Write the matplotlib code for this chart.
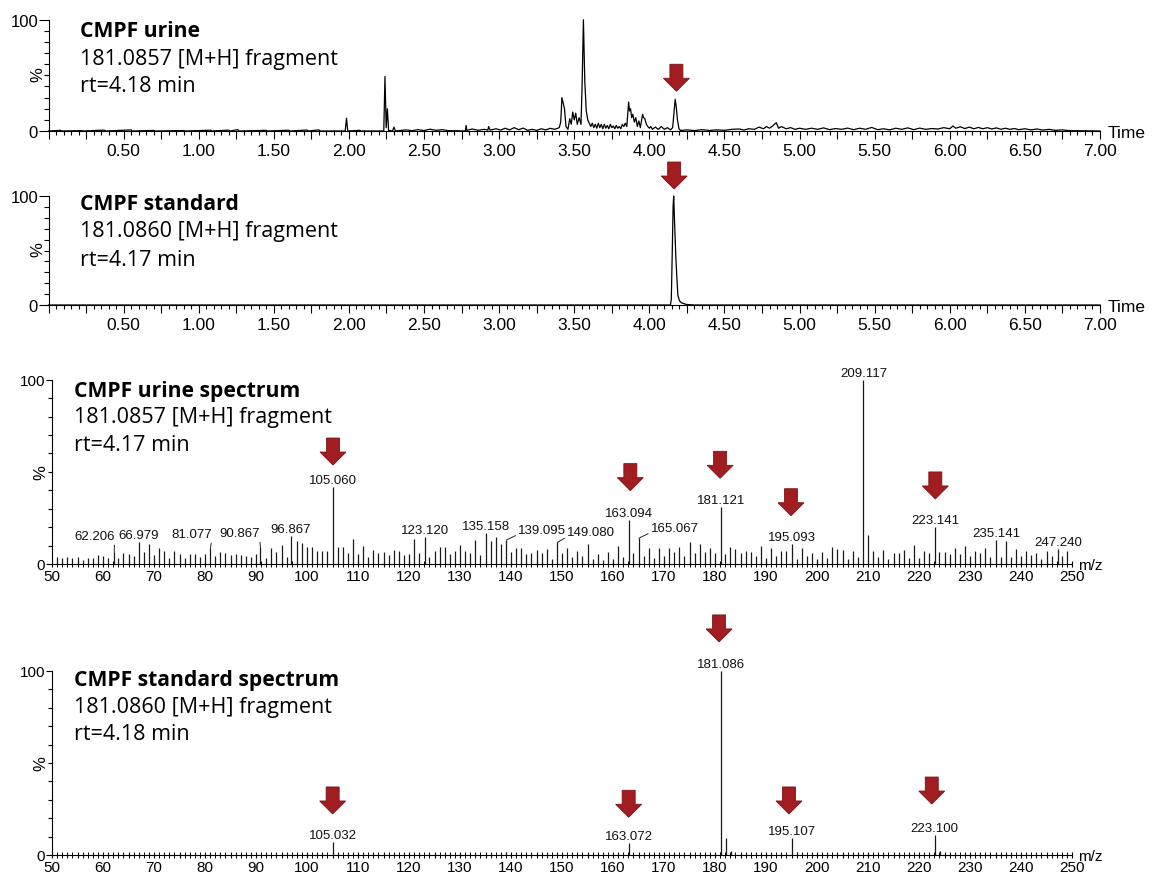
import matplotlib
matplotlib.use('Agg')
import matplotlib.pyplot as plt
import matplotlib.transforms as mtransforms
from matplotlib.patches import Polygon
from matplotlib.ticker import MultipleLocator, FuncFormatter

plt.rcParams['font.family'] = ['Liberation Sans', 'DejaVu Sans']

# ---------------- data ----------------
# chromatogram of urine sample (time in min, intensity in %)
chrom1_time = [0.00, 0.08, 0.09, 0.22, 0.23, 0.37, 0.38, 0.55, 0.56, 0.70, 0.71, 0.90, 0.91,
               1.08, 1.09, 1.20, 1.21, 1.26, 1.27, 1.45, 1.46, 1.60, 1.61, 1.72, 1.73, 1.80, 1.81,
               1.975, 1.984, 1.992, 2.07, 2.08, 2.232, 2.240, 2.248, 2.256, 2.264, 2.29, 2.30, 2.31,
               2.38, 2.42, 2.46, 2.50, 2.54, 2.58, 2.62, 2.66, 2.72, 2.775, 2.78, 2.785, 2.82, 2.86,
               2.90, 2.925, 2.93, 2.94, 2.98, 3.01, 3.04, 3.07, 3.10, 3.13, 3.16, 3.19, 3.22, 3.25,
               3.28, 3.31, 3.34, 3.37, 3.40, 3.41, 3.418, 3.428, 3.435, 3.445, 3.458, 3.47, 3.48,
               3.49, 3.50, 3.51, 3.52, 3.532, 3.545, 3.553, 3.561, 3.57, 3.58, 3.59, 3.60, 3.61,
               3.62, 3.63, 3.64, 3.65, 3.66, 3.67, 3.68, 3.69, 3.70, 3.71, 3.72, 3.73, 3.74, 3.75,
               3.76, 3.77, 3.78, 3.79, 3.80, 3.81, 3.82, 3.83, 3.84, 3.85, 3.862, 3.868, 3.875,
               3.882, 3.89, 3.90, 3.91, 3.92, 3.93, 3.94, 3.955, 3.962, 3.97, 3.98, 3.99, 4.00,
               4.01, 4.02, 4.04, 4.06, 4.08, 4.10, 4.12, 4.14, 4.155, 4.172, 4.179, 4.187, 4.197,
               4.207, 4.25, 4.30, 4.35, 4.40, 4.45, 4.50, 4.55, 4.60, 4.63, 4.66, 4.70, 4.73, 4.76,
               4.78, 4.80, 4.82, 4.845, 4.86, 4.88, 4.91, 4.94, 4.97, 5.00, 5.04, 5.08, 5.12, 5.16,
               5.20, 5.24, 5.28, 5.32, 5.36, 5.40, 5.44, 5.48, 5.52, 5.56, 5.60, 5.64, 5.68, 5.72,
               5.76, 5.80, 5.84, 5.88, 5.92, 5.96, 6.00, 6.02, 6.04, 6.07, 6.10, 6.13, 6.16, 6.19,
               6.22, 6.25, 6.28, 6.31, 6.34, 6.37, 6.40, 6.43, 6.46, 6.50, 6.54, 6.58, 6.62, 6.66,
               6.70, 6.75, 6.80, 6.90, 7.00]
chrom1_pct = [0, 0.6, 0, 0.4, 0, 0.8, 0, 1.0, 0, 0.5, 0, 0.4, 0,
              0.7, 0, 0.8, 0, 1.2, 0, 0.6, 0, 0.7, 0, 0.9, 0, 1.0, 0,
              0, 11.5, 0, 0.6, 0, 0, 49, 3, 20, 0.5, 0, 3.5, 0,
              1.0, 0.3, 1.2, 0.4, 1.6, 0.6, 1.2, 0.3, 0.2, 0, 5, 0.5, 1.8, 0.6,
              1.5, 0.8, 4, 0.8, 2.0, 0.8, 2.5, 1.0, 3.0, 1.2, 2.6, 0.6, 1.5, 0.5,
              2.0, 1.0, 2.4, 1.5, 3.0, 8, 30, 24, 20, 4, 1.5, 11, 6,
              17, 10, 16, 6, 12, 6, 45, 100, 45, 18, 10, 7, 4,
              7, 3, 6, 2.5, 7, 3, 6, 2, 6, 2.5, 5, 2, 6, 3,
              4.5, 2, 5, 2.5, 4, 2, 6, 4, 7, 4, 26, 18, 20,
              12, 15, 8, 12, 4, 9, 3, 15, 12, 11, 6, 4, 2.5,
              4, 1.5, 3.5, 1.5, 4, 1.5, 3, 1, 3, 28.5, 22, 10, 2,
              0.5, 1.0, 0.4, 1.2, 0.5, 1.0, 0.6, 1.5, 1.8, 0.8, 2.0, 1.5, 3.5, 2.0,
              4.0, 2.5, 4.5, 7.5, 2.5, 4, 2, 3, 1.5, 2.5, 1.5, 2.5, 1.5, 2.8,
              1.2, 2.2, 1.5, 2.6, 1.2, 2.5, 1.5, 3.2, 1.2, 2.0, 1.0, 2.5, 1.5, 2.8,
              1.2, 2.6, 1.5, 2.2, 1.8, 3.0, 2.0, 4.5, 2.5, 3.8, 2.2, 3.5, 2.0, 3.2,
              2.0, 3.0, 1.8, 2.8, 1.5, 2.5, 1.5, 2.2, 1.2, 2.0, 1.0, 1.8, 0.8, 1.5,
              0.6, 1.0, 0.3, 0.2, 0]

# chromatogram of the standard
chrom2_time = [0.00, 4.140, 4.146, 4.152, 4.158, 4.162, 4.168, 4.176, 4.182, 4.190, 4.200,
               4.213, 4.246, 4.300, 7.00]
chrom2_pct = [0, 0, 5, 45, 90, 100, 75, 45, 28, 9, 4, 2, 0.5, 0, 0]

# urine spectrum (m/z, %)
spec1_mz = [51, 52, 53, 54, 55, 56, 57, 58, 59, 60, 61, 62.206, 63, 64, 65, 66, 66.979, 68, 69, 70,
            71, 72, 73, 74, 75, 76, 77, 78, 79, 80, 81.077, 82, 83, 84, 85, 86, 87, 88, 89, 90,
            90.867, 92, 93, 94, 95, 96, 96.867, 98, 99, 100, 101, 102, 103, 104, 105.060, 106, 107,
            108, 109, 110, 111, 112, 113, 114, 115, 116, 117, 118, 119, 120, 121, 122, 123.120,
            124, 125, 126, 127, 128, 129, 130, 131, 132, 133, 134, 135.158, 136, 137, 138,
            139.095, 140, 141, 142, 143, 144, 145, 146, 147, 148, 149.080, 150, 151, 152, 153,
            154, 155, 156, 157, 158, 159, 160, 161, 162, 163.094, 164, 165.067, 166, 167, 168,
            169, 170, 171, 172, 173, 174, 175, 176, 177, 178, 179, 180, 181.121, 182, 183, 184,
            185, 186, 187, 188, 189, 190, 191, 192, 193, 194, 195.093, 196, 197, 198, 199, 200,
            201, 202, 203, 204, 205, 206, 207, 208, 209.117, 210, 211, 212, 213, 214, 215, 216,
            217, 218, 219, 220, 221, 222, 223.141, 224, 225, 226, 227, 228, 229, 230, 231, 232,
            233, 234, 235.141, 236, 237, 238, 239, 240, 241, 242, 243, 244, 245, 246, 247.240,
            248, 249]
spec1_pct = [4, 3.5, 4, 3, 4, 2, 3.5, 3, 5, 4.5, 3, 6.3, 3, 6, 5.5, 4.5, 12, 6.5, 11, 5,
             8.5, 7, 3, 7, 5.5, 3.5, 5.5, 5.5, 4, 5.5, 8.5, 4.5, 6.5, 6, 5, 5.5, 5, 4.5, 4, 5.5,
             9, 3, 8.5, 6.5, 10.5, 4, 15.3, 12.5, 11.5, 9, 9, 7, 7, 7, 42, 9, 9,
             6, 13.5, 5.5, 10, 4, 7.5, 6, 6.5, 5, 7.5, 7, 5, 5.4, 13.5, 5.8, 14.4,
             4, 7, 9.4, 9.4, 5.4, 7.2, 10.5, 6.8, 5.8, 13, 5, 17, 12.5, 14.8, 10.8,
             13, 6.3, 8.6, 8.6, 5.4, 5.8, 7.6, 5.8, 8.1, 2.7, 11.7, 5.8, 8.6, 3.6, 7.2,
             4.5, 10.8, 2.7, 5.4, 2.2, 6.3, 2.7, 9.9, 4, 23.8, 5.8, 14, 4.5, 8.6, 3.2,
             8.6, 4.5, 8.6, 6.3, 9.4, 4.5, 12, 5.8, 11, 6.3, 8.6, 5.8, 30.8, 5.4, 9.4, 8.1,
             5.8, 6.8, 6.3, 4.5, 9.9, 3.2, 8.6, 4.5, 6.8, 6.8, 10.8, 2.7, 8.6, 4.5, 5.8, 2.7,
             6.3, 3.2, 9, 8.1, 7.6, 2.7, 6.8, 4, 100, 15.8, 6.8, 3.6, 7.6, 2.7, 5.8, 5.8,
             7.6, 3.2, 10.4, 3.2, 6.8, 5.8, 20, 6.3, 6.3, 5.4, 8.6, 5.4, 9.9, 4.5, 6.8, 5.8,
             8.6, 4, 13, 4, 12.6, 4, 8.1, 4.5, 6.8, 5, 5.8, 2.7, 6.8, 4.5, 8.1,
             4.5, 6.8]
spec1_labelled = [62.206, 66.979, 81.077, 90.867, 96.867, 105.060, 123.120, 135.158, 139.095,
                  149.080, 163.094, 165.067, 181.121, 195.093, 209.117, 223.141, 235.141, 247.240]

# standard spectrum (m/z, %)
spec2_mz = [96.1, 105.032, 139.1, 163.072, 181.086, 182.09, 183.09, 195.107, 196.1, 223.100, 224.1, 237.1]
spec2_pct = [1.2, 7.3, 1.5, 6.6, 100, 9, 2.4, 9.1, 1.5, 11, 2, 1.2]
spec2_labelled = [105.032, 163.072, 181.086, 195.107, 223.100]

# red arrows (x, tip height in %)
chrom1_arrows = [(4.18, 35.7)]
chrom2_arrows = [(4.165, 106.4)]
spec1_arrows = [(105.1, 53.7), (163.4, 39.8), (181.0, 46.5), (194.9, 26.2), (223.2, 35.3)]
spec2_arrows = [(105.03, 22.3), (163.07, 20.5), (180.8, 115.8), (194.5, 22.3), (222.5, 27.7)]

titles = [("CMPF urine", "181.0857 [M+H] fragment", "rt=4.18 min"),
          ("CMPF standard", "181.0860 [M+H] fragment", "rt=4.17 min"),
          ("CMPF urine spectrum", "181.0857 [M+H] fragment", "rt=4.17 min"),
          ("CMPF standard spectrum", "181.0860 [M+H] fragment", "rt=4.18 min")]

# ---------------- figure ----------------
W, H = 1152, 878
fig = plt.figure(figsize=(W / 100, H / 100), dpi=100)


def px_box(x0, x1, y0, y100):
    # axes rect from pixel positions (x of left/right, y of 0 and 100)
    return [x0 / W, (H - y0) / H, (x1 - x0) / W, (y0 - y100) / H]


def px(x, y):
    return x / W, (H - y) / H


ax1 = fig.add_axes(px_box(48.5, 1100, 132, 20.7))
ax2 = fig.add_axes(px_box(48.5, 1100, 306, 197))
ax3 = fig.add_axes(px_box(52, 1072, 565, 380.7))
ax4 = fig.add_axes(px_box(52, 1072, 856, 672))

red = '#a11d22'


def red_arrow(ax, x, y_tip):
    # block arrow, sizes in pixels, tip placed on data point
    verts = [(-6.5, 27), (6.5, 27), (6.5, 13), (13, 13), (0, 0), (-13, 13), (-6.5, 13)]
    verts = [(vx / 100, vy / 100) for vx, vy in verts]
    tr = fig.dpi_scale_trans + mtransforms.ScaledTranslation(x, y_tip, ax.transData)
    ax.add_patch(Polygon(verts, closed=True, transform=tr, fc=red, ec='#7c1216',
                         lw=0.6, clip_on=False, zorder=5))


def style_y(ax, major_len, minor_len):
    ax.set_ylim(0, 100)
    ax.set_yticks([0, 100])
    ax.yaxis.set_minor_locator(MultipleLocator(10))
    ax.tick_params(axis='y', which='major', length=major_len, width=0.8, pad=0.5, labelsize=12)
    ax.tick_params(axis='y', which='minor', length=minor_len, width=0.8)
    for s in ['top', 'right']:
        ax.spines[s].set_visible(False)
    for s in ['left', 'bottom']:
        ax.spines[s].set_linewidth(0.8)


# chromatograms
chrom_fmt = FuncFormatter(lambda v, p: f'{v:.2f}' if v > 0.01 and abs(v / 0.5 - round(v / 0.5)) < 1e-6 else '')
for ax, t, y, arrows in [(ax1, chrom1_time, chrom1_pct, chrom1_arrows),
                         (ax2, chrom2_time, chrom2_pct, chrom2_arrows)]:
    ax.plot(t, y, color='black', lw=0.9, clip_on=False)
    ax.set_xlim(0, 7.0)
    style_y(ax, 7, 3.6)
    ax.xaxis.set_major_locator(MultipleLocator(0.25))
    ax.xaxis.set_major_formatter(chrom_fmt)
    ax.xaxis.set_minor_locator(MultipleLocator(0.05))
    ax.tick_params(axis='x', which='major', length=6, width=0.8, pad=3, labelsize=12.5)
    ax.tick_params(axis='x', which='minor', length=3, width=0.8)
    for x, yt in arrows:
        red_arrow(ax, x, yt)

# spectra
spec_fmt = FuncFormatter(lambda v, p: f'{v:.0f}' if abs(v / 10 - round(v / 10)) < 1e-6 else '')
for ax, mz, pct, arrows in [(ax3, spec1_mz, spec1_pct, spec1_arrows),
                            (ax4, spec2_mz, spec2_pct, spec2_arrows)]:
    ax.vlines(mz, 0, pct, color='#1a1a1a', lw=0.9)
    ax.set_xlim(50, 250)
    style_y(ax, 4.5, 3)
    ax.tick_params(axis='y', labelsize=11)
    ax.xaxis.set_major_locator(MultipleLocator(5))
    ax.xaxis.set_major_formatter(spec_fmt)
    ax.xaxis.set_minor_locator(MultipleLocator(1))
    ax.tick_params(axis='x', which='major', length=5, width=0.8, pad=1, labelsize=11,
                   direction='inout')
    ax.tick_params(axis='x', which='minor', length=4, width=0.7, direction='inout')
    for x, yt in arrows:
        red_arrow(ax, x, yt)

# peak labels: (offset x px, offset y px) for labels with leader lines
leader_offsets = {62.206: (-20, 10), 81.077: (-19, 8), 90.867: (-21, 8),
                  139.095: (36, 4), 149.080: (34, 4), 165.067: (36, 4)}
for ax, mz, pct, labelled in [(ax3, spec1_mz, spec1_pct, spec1_labelled),
                              (ax4, spec2_mz, spec2_pct, spec2_labelled)]:
    for m in labelled:
        h = pct[mz.index(m)]
        if m in leader_offsets:
            dx, dy = leader_offsets[m]
            ax.annotate(f'{m:.3f}', xy=(m, h), xytext=(dx, dy), textcoords='offset pixels',
                        ha='center', va='bottom', fontsize=9.5, color='#111111',
                        arrowprops=dict(arrowstyle='-', lw=0.7, color='#222222',
                                        shrinkA=0, shrinkB=0,
                                        relpos=(1, 0.15) if dx < 0 else (0, 0.15)))
        else:
            ax.annotate(f'{m:.3f}', xy=(m, h), xytext=(0, 1), textcoords='offset pixels',
                        ha='center', va='bottom', fontsize=9.5, color='#111111',
                        annotation_clip=False)

# titles
title_pos = [(80, [31.7, 60, 87]), (80, [205, 232, 260]), (74, [391, 418, 446]), (74, [681, 708, 735])]
for (bold, line2, line3), (x, ys) in zip(titles, title_pos):
    fig.text(*px(x, ys[0]), bold, fontsize=15.2, fontweight='bold', family='Open Sans', va='center')
    fig.text(*px(x, ys[1]), line2, fontsize=15.5, family='Open Sans', va='center', color='black')
    fig.text(*px(x, ys[2]), line3, fontsize=15.5, family='Open Sans', va='center', color='black')

# "%" labels and axis names
for x, y in [(38, 75), (38, 250), (41, 473), (41, 764)]:
    fig.text(*px(x, y), '%', rotation=90, fontsize=12, ha='center', va='center')
for y in [133, 307]:
    fig.text(*px(1108, y), 'Time', fontsize=12.5, va='center')
for y in [566, 857]:
    fig.text(*px(1078, y), 'm/z', fontsize=11, va='center')

fig.savefig('out.png', dpi=100)
